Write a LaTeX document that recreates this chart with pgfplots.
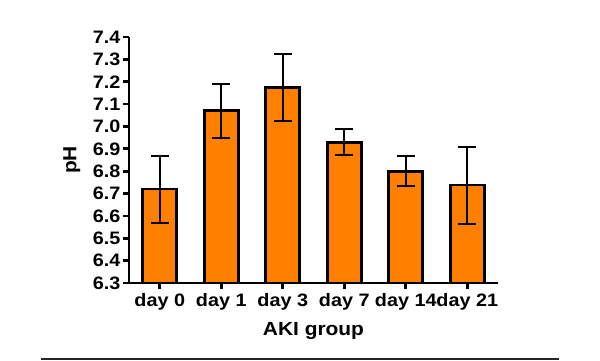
\documentclass[border=0pt]{standalone}
\usepackage{fontspec}
\setmainfont[FakeStretch=1.1]{Liberation Sans}
\usepackage{pgfplots}
\pgfplotsset{compat=1.18}
\definecolor{barorange}{RGB}{255,128,0}
\begin{document}
\begin{tikzpicture}[x=1pt,y=1pt]
\useasboundingbox (0,0) rectangle (600,360);
\draw[line width=2pt, black!85] (41,1.5) -- (559,1.5);
\begin{axis}[
  at={(129pt,77pt)}, anchor=south west,
  scale only axis, width=369pt, height=246pt,
  axis lines*=left,
  axis line style={-, line width=2.8pt, black},
  xmin=-0.5, xmax=5.5, ymin=6.3, ymax=7.4,
  ytick={6.3,6.4,6.5,6.6,6.7,6.8,6.9,7.0,7.1,7.2,7.3,7.4},
  yticklabel style={/pgf/number format/fixed, /pgf/number format/fixed zerofill, /pgf/number format/precision=1},
  xtick={0,1,2,3,4,5},
  xticklabels={day 0,day 1,day 3,day 7,day 14,day 21},
  tick align=outside,
  major tick length=6pt,
  tick style={line width=2.8pt, black},
  ticklabel style={font=\bfseries\fontsize{18}{18}\selectfont},
  xticklabel style={yshift=-1pt},
  yticklabel style={xshift=1pt},
  /pgf/number format/assume math mode=true,
  xlabel={AKI group}, ylabel={pH},
  label style={font=\bfseries\fontsize{19}{19}\selectfont},
  xlabel style={at={(axis description cs:0.5,-0.195)}, anchor=center},
  ylabel style={at={(axis description cs:-0.155,0.5)}, anchor=center},
  clip=false,
]
\addplot[ybar, bar width=34pt, fill=barorange, draw=black, line width=2.8pt,
  error bars/.cd, y dir=both, y explicit,
  error bar style={line width=2pt, black},
  error mark options={rotate=90, mark size=9pt, line width=2pt, black}]
coordinates {
  (0,6.72) +- (0,0.15)
  (1,7.07) +- (0,0.12)
  (2,7.175) +- (0,0.15)
  (3,6.93) +- (0,0.057)
  (4,6.80) +- (0,0.068)
  (5,6.738) +- (0,0.172)
};
\end{axis}
\end{tikzpicture}
\end{document}
